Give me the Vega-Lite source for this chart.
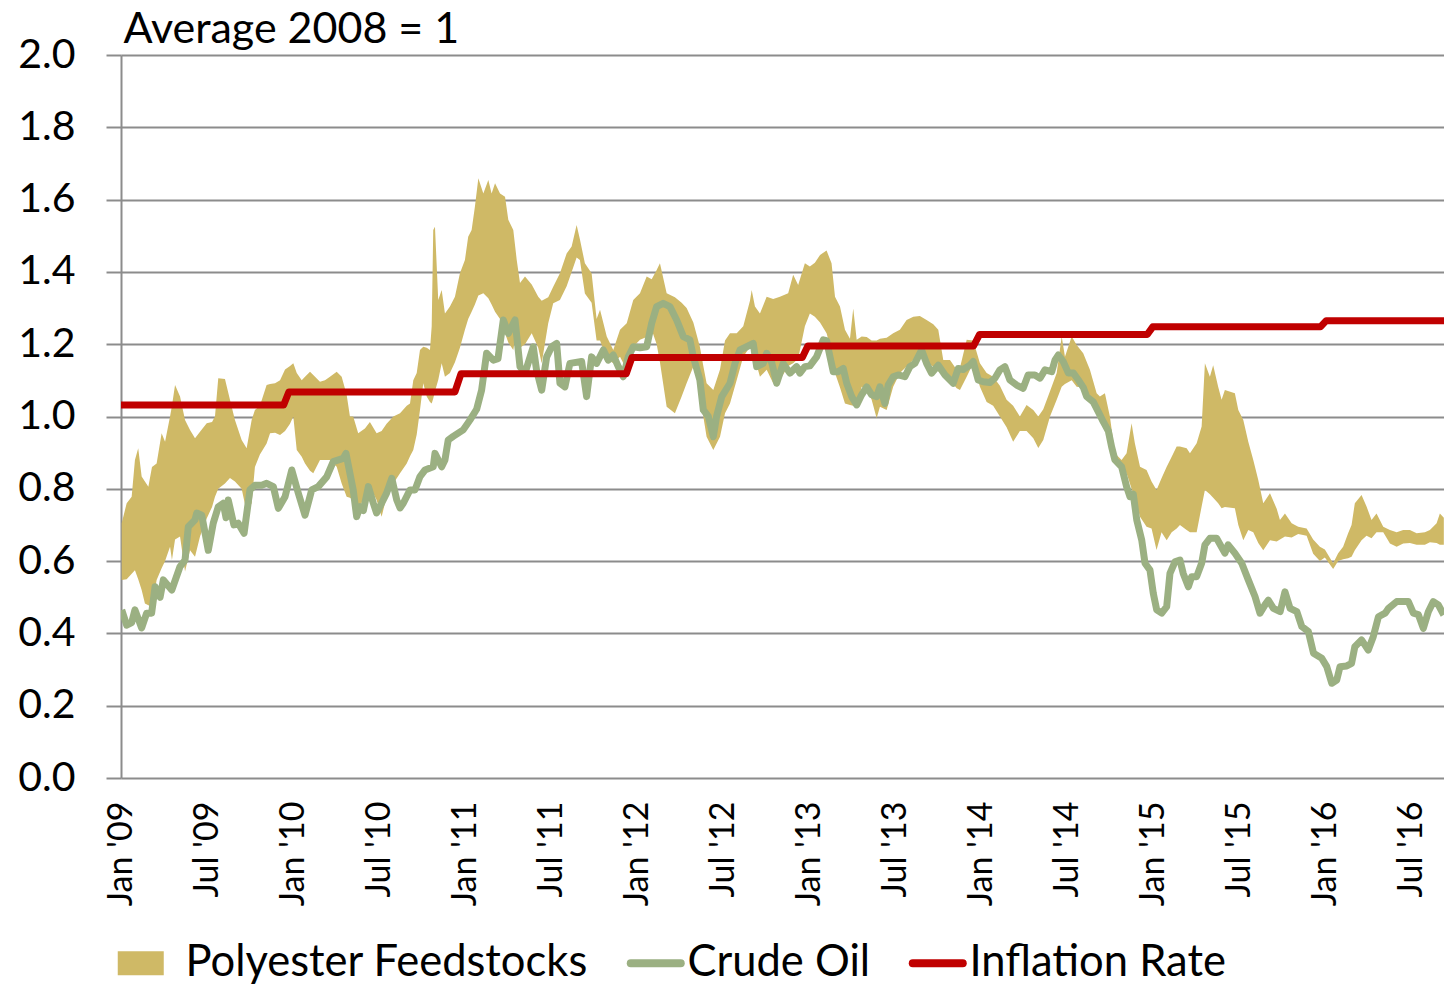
{
  "$schema": "https://vega.github.io/schema/vega-lite/v6.json",
  "width": 1323,
  "height": 723,
  "autosize": {"type": "none"},
  "padding": {"left": 121, "top": 55, "right": 0, "bottom": 206},
  "background": "white",
  "config": {
    "view": {"stroke": null},
    "font": "Lato",
    "axis": {"labelFont": "Lato", "titleFont": "Lato", "labelColor": "#000000", "titleColor": "#000000"},
    "legend": {"labelFont": "Lato"}
  },
  "datasets": {
    "band": [
      {"t":2009.004,"v":0.705,"lo":0.548},{"t":2009.033,"v":0.76,"lo":0.55},{"t":2009.062,"v":0.778,"lo":0.565},{"t":2009.081,"v":0.88,"lo":0.575},{"t":2009.100,"v":0.912,"lo":0.55},{"t":2009.120,"v":0.834,"lo":0.52},{"t":2009.139,"v":0.82,"lo":0.483},{"t":2009.159,"v":0.806,"lo":0.478},{"t":2009.180,"v":0.86,"lo":0.474},{"t":2009.207,"v":0.87,"lo":0.548},{"t":2009.236,"v":0.954,"lo":0.58},{"t":2009.256,"v":0.93,"lo":0.60},{"t":2009.285,"v":1.0,"lo":0.64},{"t":2009.296,"v":1.03,"lo":0.603},{"t":2009.314,"v":1.087,"lo":0.66},{"t":2009.343,"v":1.055,"lo":0.668},{"t":2009.372,"v":0.99,"lo":0.571},{"t":2009.401,"v":0.963,"lo":0.63},{"t":2009.430,"v":0.94,"lo":0.612},{"t":2009.459,"v":0.958,"lo":0.668},{"t":2009.498,"v":0.981,"lo":0.718},{"t":2009.529,"v":0.985,"lo":0.75},{"t":2009.546,"v":1.0,"lo":0.778},{"t":2009.565,"v":1.106,"lo":0.80},{"t":2009.604,"v":1.104,"lo":0.815},{"t":2009.633,"v":1.046,"lo":0.83},{"t":2009.662,"v":0.99,"lo":0.82},{"t":2009.701,"v":0.935,"lo":0.80},{"t":2009.730,"v":0.912,"lo":0.735},{"t":2009.759,"v":0.99,"lo":0.76},{"t":2009.778,"v":1.018,"lo":0.86},{"t":2009.807,"v":1.03,"lo":0.895},{"t":2009.846,"v":1.087,"lo":0.925},{"t":2009.866,"v":1.09,"lo":0.954},{"t":2009.895,"v":1.092,"lo":0.955},{"t":2009.924,"v":1.10,"lo":0.949},{"t":2009.953,"v":1.13,"lo":0.96},{"t":2009.982,"v":1.14,"lo":0.98},{"t":2010.001,"v":1.147,"lo":1.0},{"t":2010.021,"v":1.12,"lo":0.907},{"t":2010.050,"v":1.10,"lo":0.889},{"t":2010.069,"v":1.11,"lo":0.87},{"t":2010.098,"v":1.124,"lo":0.85},{"t":2010.117,"v":1.115,"lo":0.843},{"t":2010.156,"v":1.096,"lo":0.88},{"t":2010.185,"v":1.10,"lo":0.88},{"t":2010.214,"v":1.11,"lo":0.88},{"t":2010.253,"v":1.124,"lo":0.861},{"t":2010.282,"v":1.11,"lo":0.815},{"t":2010.311,"v":1.06,"lo":0.778},{"t":2010.330,"v":1.0,"lo":0.775},{"t":2010.349,"v":1.0,"lo":0.769},{"t":2010.378,"v":0.954,"lo":0.741},{"t":2010.417,"v":0.967,"lo":0.78},{"t":2010.446,"v":0.985,"lo":0.806},{"t":2010.485,"v":0.954,"lo":0.769},{"t":2010.514,"v":0.96,"lo":0.723},{"t":2010.543,"v":0.98,"lo":0.778},{"t":2010.582,"v":1.0,"lo":0.815},{"t":2010.621,"v":1.009,"lo":0.843},{"t":2010.660,"v":1.03,"lo":0.87},{"t":2010.679,"v":1.036,"lo":0.89},{"t":2010.698,"v":1.10,"lo":0.907},{"t":2010.718,"v":1.12,"lo":0.95},{"t":2010.737,"v":1.184,"lo":1.018},{"t":2010.756,"v":1.193,"lo":1.092},{"t":2010.776,"v":1.19,"lo":1.055},{"t":2010.795,"v":1.184,"lo":1.04},{"t":2010.805,"v":1.25,"lo":1.036},{"t":2010.814,"v":1.516,"lo":1.05},{"t":2010.824,"v":1.525,"lo":1.07},{"t":2010.843,"v":1.322,"lo":1.101},{"t":2010.863,"v":1.35,"lo":1.147},{"t":2010.882,"v":1.285,"lo":1.11},{"t":2010.911,"v":1.304,"lo":1.12},{"t":2010.940,"v":1.331,"lo":1.15},{"t":2010.969,"v":1.396,"lo":1.19},{"t":2010.998,"v":1.433,"lo":1.24},{"t":2011.017,"v":1.497,"lo":1.27},{"t":2011.037,"v":1.516,"lo":1.29},{"t":2011.056,"v":1.58,"lo":1.31},{"t":2011.076,"v":1.659,"lo":1.335},{"t":2011.105,"v":1.617,"lo":1.341},{"t":2011.134,"v":1.654,"lo":1.327},{"t":2011.153,"v":1.617,"lo":1.31},{"t":2011.173,"v":1.645,"lo":1.29},{"t":2011.202,"v":1.617,"lo":1.27},{"t":2011.231,"v":1.608,"lo":1.23},{"t":2011.250,"v":1.544,"lo":1.205},{"t":2011.279,"v":1.516,"lo":1.184},{"t":2011.299,"v":1.433,"lo":1.24},{"t":2011.318,"v":1.369,"lo":1.19},{"t":2011.347,"v":1.387,"lo":1.20},{"t":2011.386,"v":1.365,"lo":1.23},{"t":2011.424,"v":1.331,"lo":1.19},{"t":2011.444,"v":1.32,"lo":1.147},{"t":2011.482,"v":1.33,"lo":1.258},{"t":2011.511,"v":1.359,"lo":1.313},{"t":2011.550,"v":1.396,"lo":1.322},{"t":2011.589,"v":1.451,"lo":1.36},{"t":2011.618,"v":1.47,"lo":1.40},{"t":2011.647,"v":1.53,"lo":1.44},{"t":2011.666,"v":1.49,"lo":1.433},{"t":2011.695,"v":1.424,"lo":1.34},{"t":2011.734,"v":1.396,"lo":1.315},{"t":2011.763,"v":1.27,"lo":1.21},{"t":2011.783,"v":1.295,"lo":1.21},{"t":2011.822,"v":1.221,"lo":1.16},{"t":2011.860,"v":1.184,"lo":1.147},{"t":2011.899,"v":1.24,"lo":1.165},{"t":2011.938,"v":1.258,"lo":1.129},{"t":2011.976,"v":1.322,"lo":1.193},{"t":2012.015,"v":1.341,"lo":1.212},{"t":2012.054,"v":1.387,"lo":1.22},{"t":2012.083,"v":1.38,"lo":1.24},{"t":2012.112,"v":1.405,"lo":1.2},{"t":2012.131,"v":1.424,"lo":1.15},{"t":2012.170,"v":1.341,"lo":1.027},{"t":2012.218,"v":1.33,"lo":1.009},{"t":2012.257,"v":1.315,"lo":1.055},{"t":2012.286,"v":1.30,"lo":1.092},{"t":2012.325,"v":1.26,"lo":1.138},{"t":2012.363,"v":1.193,"lo":1.092},{"t":2012.383,"v":1.14,"lo":1.0},{"t":2012.402,"v":1.092,"lo":0.944},{"t":2012.441,"v":1.073,"lo":0.907},{"t":2012.480,"v":1.13,"lo":0.944},{"t":2012.509,"v":1.21,"lo":1.009},{"t":2012.538,"v":1.23,"lo":1.036},{"t":2012.577,"v":1.23,"lo":1.101},{"t":2012.615,"v":1.25,"lo":1.165},{"t":2012.654,"v":1.32,"lo":1.193},{"t":2012.664,"v":1.35,"lo":1.19},{"t":2012.683,"v":1.304,"lo":1.16},{"t":2012.712,"v":1.285,"lo":1.11},{"t":2012.751,"v":1.331,"lo":1.129},{"t":2012.789,"v":1.325,"lo":1.092},{"t":2012.828,"v":1.331,"lo":1.10},{"t":2012.876,"v":1.341,"lo":1.14},{"t":2012.905,"v":1.392,"lo":1.147},{"t":2012.934,"v":1.364,"lo":1.16},{"t":2012.973,"v":1.424,"lo":1.25},{"t":2013.002,"v":1.415,"lo":1.285},{"t":2013.031,"v":1.425,"lo":1.276},{"t":2013.061,"v":1.447,"lo":1.26},{"t":2013.099,"v":1.459,"lo":1.23},{"t":2013.128,"v":1.424,"lo":1.18},{"t":2013.148,"v":1.331,"lo":1.12},{"t":2013.177,"v":1.304,"lo":1.08},{"t":2013.206,"v":1.24,"lo":1.036},{"t":2013.235,"v":1.215,"lo":1.032},{"t":2013.254,"v":1.299,"lo":1.03},{"t":2013.274,"v":1.212,"lo":1.027},{"t":2013.303,"v":1.221,"lo":1.082},{"t":2013.332,"v":1.22,"lo":1.075},{"t":2013.361,"v":1.21,"lo":1.046},{"t":2013.390,"v":1.21,"lo":0.995},{"t":2013.409,"v":1.215,"lo":1.027},{"t":2013.448,"v":1.218,"lo":1.018},{"t":2013.486,"v":1.23,"lo":1.082},{"t":2013.525,"v":1.24,"lo":1.12},{"t":2013.564,"v":1.267,"lo":1.138},{"t":2013.603,"v":1.276,"lo":1.156},{"t":2013.641,"v":1.278,"lo":1.184},{"t":2013.680,"v":1.267,"lo":1.147},{"t":2013.719,"v":1.255,"lo":1.138},{"t":2013.748,"v":1.24,"lo":1.125},{"t":2013.777,"v":1.156,"lo":1.115},{"t":2013.816,"v":1.156,"lo":1.10},{"t":2013.855,"v":1.129,"lo":1.078},{"t":2013.874,"v":1.135,"lo":1.073},{"t":2013.913,"v":1.212,"lo":1.11},{"t":2013.951,"v":1.21,"lo":1.147},{"t":2013.990,"v":1.147,"lo":1.082},{"t":2014.029,"v":1.12,"lo":1.04},{"t":2014.067,"v":1.11,"lo":1.03},{"t":2014.106,"v":1.085,"lo":1.0},{"t":2014.145,"v":1.046,"lo":0.97},{"t":2014.183,"v":1.03,"lo":0.93},{"t":2014.222,"v":1.0,"lo":0.96},{"t":2014.261,"v":1.032,"lo":0.96},{"t":2014.300,"v":1.018,"lo":0.94},{"t":2014.329,"v":1.0,"lo":0.913},{"t":2014.358,"v":1.02,"lo":0.935},{"t":2014.397,"v":1.07,"lo":1.0},{"t":2014.436,"v":1.12,"lo":1.046},{"t":2014.465,"v":1.221,"lo":1.082},{"t":2014.484,"v":1.165,"lo":1.09},{"t":2014.523,"v":1.221,"lo":1.10},{"t":2014.552,"v":1.198,"lo":1.082},{"t":2014.590,"v":1.175,"lo":1.08},{"t":2014.629,"v":1.129,"lo":1.05},{"t":2014.668,"v":1.064,"lo":1.025},{"t":2014.687,"v":1.055,"lo":1.01},{"t":2014.716,"v":1.064,"lo":0.99},{"t":2014.745,"v":1.0,"lo":0.954},{"t":2014.774,"v":0.898,"lo":0.885},{"t":2014.813,"v":0.88,"lo":0.861},{"t":2014.842,"v":0.898,"lo":0.843},{"t":2014.871,"v":0.981,"lo":0.80},{"t":2014.890,"v":0.926,"lo":0.775},{"t":2014.920,"v":0.861,"lo":0.723},{"t":2014.958,"v":0.852,"lo":0.695},{"t":2014.987,"v":0.82,"lo":0.69},{"t":2015.016,"v":0.797,"lo":0.631},{"t":2015.045,"v":0.829,"lo":0.68},{"t":2015.075,"v":0.861,"lo":0.658},{"t":2015.104,"v":0.889,"lo":0.68},{"t":2015.133,"v":0.917,"lo":0.69},{"t":2015.152,"v":0.917,"lo":0.70},{"t":2015.191,"v":0.912,"lo":0.686},{"t":2015.210,"v":0.898,"lo":0.68},{"t":2015.249,"v":0.926,"lo":0.68},{"t":2015.278,"v":0.972,"lo":0.751},{"t":2015.297,"v":1.147,"lo":0.797},{"t":2015.326,"v":1.11,"lo":0.785},{"t":2015.345,"v":1.142,"lo":0.775},{"t":2015.374,"v":1.082,"lo":0.76},{"t":2015.394,"v":1.046,"lo":0.746},{"t":2015.413,"v":1.073,"lo":0.75},{"t":2015.471,"v":1.064,"lo":0.746},{"t":2015.491,"v":1.018,"lo":0.70},{"t":2015.520,"v":0.99,"lo":0.658},{"t":2015.549,"v":0.93,"lo":0.686},{"t":2015.578,"v":0.88,"lo":0.68},{"t":2015.607,"v":0.824,"lo":0.65},{"t":2015.636,"v":0.76,"lo":0.63},{"t":2015.675,"v":0.788,"lo":0.658},{"t":2015.714,"v":0.745,"lo":0.654},{"t":2015.733,"v":0.714,"lo":0.66},{"t":2015.762,"v":0.732,"lo":0.668},{"t":2015.801,"v":0.705,"lo":0.665},{"t":2015.839,"v":0.695,"lo":0.675},{"t":2015.888,"v":0.69,"lo":0.67},{"t":2015.926,"v":0.66,"lo":0.62},{"t":2015.965,"v":0.64,"lo":0.60},{"t":2015.994,"v":0.632,"lo":0.61},{"t":2016.042,"v":0.594,"lo":0.578},{"t":2016.071,"v":0.622,"lo":0.60},{"t":2016.100,"v":0.64,"lo":0.605},{"t":2016.129,"v":0.677,"lo":0.608},{"t":2016.149,"v":0.70,"lo":0.612},{"t":2016.168,"v":0.76,"lo":0.63},{"t":2016.207,"v":0.783,"lo":0.658},{"t":2016.236,"v":0.751,"lo":0.67},{"t":2016.265,"v":0.714,"lo":0.663},{"t":2016.294,"v":0.732,"lo":0.68},{"t":2016.333,"v":0.695,"lo":0.68},{"t":2016.372,"v":0.686,"lo":0.649},{"t":2016.411,"v":0.68,"lo":0.64},{"t":2016.449,"v":0.686,"lo":0.649},{"t":2016.488,"v":0.686,"lo":0.65},{"t":2016.527,"v":0.677,"lo":0.645},{"t":2016.575,"v":0.68,"lo":0.645},{"t":2016.604,"v":0.686,"lo":0.652},{"t":2016.643,"v":0.705,"lo":0.65},{"t":2016.662,"v":0.732,"lo":0.645},{"t":2016.685,"v":0.72,"lo":0.645}
    ],
    "crude": [
      {"t":2009.004,"v":0.465},{"t":2009.033,"v":0.423},{"t":2009.062,"v":0.43},{"t":2009.081,"v":0.465},{"t":2009.120,"v":0.415},{"t":2009.149,"v":0.456},{"t":2009.178,"v":0.456},{"t":2009.198,"v":0.529},{"t":2009.227,"v":0.50},{"t":2009.246,"v":0.548},{"t":2009.295,"v":0.52},{"t":2009.343,"v":0.585},{"t":2009.372,"v":0.603},{"t":2009.391,"v":0.695},{"t":2009.430,"v":0.714},{"t":2009.440,"v":0.733},{"t":2009.469,"v":0.727},{"t":2009.507,"v":0.63},{"t":2009.536,"v":0.705},{"t":2009.565,"v":0.75},{"t":2009.594,"v":0.76},{"t":2009.610,"v":0.72},{"t":2009.623,"v":0.769},{"t":2009.656,"v":0.70},{"t":2009.681,"v":0.705},{"t":2009.715,"v":0.677},{"t":2009.749,"v":0.797},{"t":2009.778,"v":0.81},{"t":2009.817,"v":0.81},{"t":2009.846,"v":0.815},{"t":2009.885,"v":0.806},{"t":2009.914,"v":0.746},{"t":2009.953,"v":0.778},{"t":2009.992,"v":0.852},{"t":2010.030,"v":0.788},{"t":2010.069,"v":0.727},{"t":2010.108,"v":0.797},{"t":2010.146,"v":0.806},{"t":2010.195,"v":0.833},{"t":2010.233,"v":0.875},{"t":2010.291,"v":0.884},{"t":2010.307,"v":0.898},{"t":2010.349,"v":0.797},{"t":2010.369,"v":0.723},{"t":2010.388,"v":0.751},{"t":2010.408,"v":0.74},{"t":2010.437,"v":0.806},{"t":2010.466,"v":0.76},{"t":2010.485,"v":0.733},{"t":2010.514,"v":0.76},{"t":2010.543,"v":0.788},{"t":2010.573,"v":0.829},{"t":2010.602,"v":0.769},{"t":2010.621,"v":0.747},{"t":2010.640,"v":0.76},{"t":2010.679,"v":0.797},{"t":2010.708,"v":0.797},{"t":2010.737,"v":0.834},{"t":2010.766,"v":0.852},{"t":2010.814,"v":0.861},{"t":2010.824,"v":0.898},{"t":2010.863,"v":0.861},{"t":2010.882,"v":0.88},{"t":2010.901,"v":0.935},{"t":2010.930,"v":0.945},{"t":2010.959,"v":0.954},{"t":2010.988,"v":0.963},{"t":2011.027,"v":0.99},{"t":2011.066,"v":1.02},{"t":2011.095,"v":1.073},{"t":2011.124,"v":1.175},{"t":2011.163,"v":1.156},{"t":2011.190,"v":1.16},{"t":2011.221,"v":1.267},{"t":2011.250,"v":1.23},{"t":2011.289,"v":1.267},{"t":2011.318,"v":1.138},{"t":2011.347,"v":1.12},{"t":2011.395,"v":1.193},{"t":2011.414,"v":1.129},{"t":2011.444,"v":1.073},{"t":2011.473,"v":1.165},{"t":2011.502,"v":1.193},{"t":2011.531,"v":1.202},{"t":2011.550,"v":1.092},{"t":2011.579,"v":1.082},{"t":2011.608,"v":1.147},{"t":2011.676,"v":1.152},{"t":2011.705,"v":1.055},{"t":2011.734,"v":1.165},{"t":2011.763,"v":1.147},{"t":2011.802,"v":1.184},{"t":2011.831,"v":1.156},{"t":2011.860,"v":1.17},{"t":2011.889,"v":1.138},{"t":2011.918,"v":1.11},{"t":2011.947,"v":1.165},{"t":2011.976,"v":1.193},{"t":2012.015,"v":1.19},{"t":2012.054,"v":1.193},{"t":2012.083,"v":1.258},{"t":2012.112,"v":1.304},{"t":2012.150,"v":1.313},{"t":2012.189,"v":1.304},{"t":2012.228,"v":1.267},{"t":2012.267,"v":1.221},{"t":2012.305,"v":1.212},{"t":2012.325,"v":1.165},{"t":2012.363,"v":1.101},{"t":2012.383,"v":1.018},{"t":2012.412,"v":1.0},{"t":2012.441,"v":0.944},{"t":2012.460,"v":1.0},{"t":2012.490,"v":1.055},{"t":2012.538,"v":1.092},{"t":2012.567,"v":1.147},{"t":2012.596,"v":1.184},{"t":2012.635,"v":1.193},{"t":2012.673,"v":1.202},{"t":2012.693,"v":1.138},{"t":2012.731,"v":1.147},{"t":2012.751,"v":1.175},{"t":2012.780,"v":1.15},{"t":2012.809,"v":1.092},{"t":2012.847,"v":1.147},{"t":2012.886,"v":1.12},{"t":2012.925,"v":1.138},{"t":2012.944,"v":1.12},{"t":2012.973,"v":1.138},{"t":2013.002,"v":1.14},{"t":2013.041,"v":1.165},{"t":2013.080,"v":1.212},{"t":2013.099,"v":1.21},{"t":2013.119,"v":1.165},{"t":2013.138,"v":1.124},{"t":2013.167,"v":1.124},{"t":2013.196,"v":1.133},{"t":2013.216,"v":1.092},{"t":2013.245,"v":1.055},{"t":2013.274,"v":1.032},{"t":2013.303,"v":1.06},{"t":2013.332,"v":1.082},{"t":2013.361,"v":1.06},{"t":2013.390,"v":1.055},{"t":2013.409,"v":1.082},{"t":2013.438,"v":1.036},{"t":2013.457,"v":1.087},{"t":2013.486,"v":1.11},{"t":2013.515,"v":1.115},{"t":2013.554,"v":1.11},{"t":2013.583,"v":1.138},{"t":2013.612,"v":1.147},{"t":2013.651,"v":1.184},{"t":2013.680,"v":1.147},{"t":2013.709,"v":1.12},{"t":2013.748,"v":1.142},{"t":2013.787,"v":1.115},{"t":2013.835,"v":1.092},{"t":2013.864,"v":1.133},{"t":2013.893,"v":1.13},{"t":2013.932,"v":1.142},{"t":2013.951,"v":1.152},{"t":2013.980,"v":1.101},{"t":2014.009,"v":1.096},{"t":2014.048,"v":1.094},{"t":2014.077,"v":1.106},{"t":2014.106,"v":1.129},{"t":2014.135,"v":1.138},{"t":2014.164,"v":1.101},{"t":2014.203,"v":1.087},{"t":2014.241,"v":1.078},{"t":2014.270,"v":1.115},{"t":2014.309,"v":1.115},{"t":2014.339,"v":1.106},{"t":2014.368,"v":1.129},{"t":2014.407,"v":1.124},{"t":2014.426,"v":1.156},{"t":2014.445,"v":1.170},{"t":2014.474,"v":1.152},{"t":2014.504,"v":1.12},{"t":2014.533,"v":1.12},{"t":2014.562,"v":1.101},{"t":2014.591,"v":1.08},{"t":2014.610,"v":1.055},{"t":2014.649,"v":1.04},{"t":2014.678,"v":1.013},{"t":2014.707,"v":0.985},{"t":2014.736,"v":0.96},{"t":2014.755,"v":0.916},{"t":2014.774,"v":0.88},{"t":2014.813,"v":0.861},{"t":2014.842,"v":0.806},{"t":2014.862,"v":0.778},{"t":2014.881,"v":0.785},{"t":2014.901,"v":0.714},{"t":2014.930,"v":0.658},{"t":2014.949,"v":0.594},{"t":2014.978,"v":0.575},{"t":2014.997,"v":0.511},{"t":2015.017,"v":0.465},{"t":2015.046,"v":0.456},{"t":2015.075,"v":0.474},{"t":2015.094,"v":0.566},{"t":2015.123,"v":0.598},{"t":2015.152,"v":0.603},{"t":2015.171,"v":0.566},{"t":2015.201,"v":0.529},{"t":2015.220,"v":0.557},{"t":2015.249,"v":0.557},{"t":2015.278,"v":0.594},{"t":2015.297,"v":0.645},{"t":2015.326,"v":0.663},{"t":2015.365,"v":0.663},{"t":2015.413,"v":0.622},{"t":2015.432,"v":0.645},{"t":2015.471,"v":0.622},{"t":2015.511,"v":0.594},{"t":2015.549,"v":0.548},{"t":2015.588,"v":0.502},{"t":2015.617,"v":0.456},{"t":2015.646,"v":0.479},{"t":2015.665,"v":0.492},{"t":2015.695,"v":0.469},{"t":2015.734,"v":0.46},{"t":2015.762,"v":0.515},{"t":2015.792,"v":0.469},{"t":2015.831,"v":0.46},{"t":2015.860,"v":0.419},{"t":2015.898,"v":0.405},{"t":2015.928,"v":0.345},{"t":2015.976,"v":0.331},{"t":2016.005,"v":0.308},{"t":2016.034,"v":0.262},{"t":2016.063,"v":0.271},{"t":2016.082,"v":0.308},{"t":2016.121,"v":0.31},{"t":2016.149,"v":0.317},{"t":2016.168,"v":0.363},{"t":2016.207,"v":0.382},{"t":2016.246,"v":0.354},{"t":2016.275,"v":0.391},{"t":2016.305,"v":0.446},{"t":2016.344,"v":0.456},{"t":2016.363,"v":0.469},{"t":2016.411,"v":0.488},{"t":2016.450,"v":0.488},{"t":2016.479,"v":0.488},{"t":2016.508,"v":0.456},{"t":2016.537,"v":0.452},{"t":2016.566,"v":0.414},{"t":2016.595,"v":0.46},{"t":2016.624,"v":0.488},{"t":2016.653,"v":0.479},{"t":2016.685,"v":0.451}
    ],
    "infl": [
      {"t":2009.0,"v":1.032},{"t":2009.945,"v":1.032},{"t":2009.975,"v":1.068},{"t":2010.94,"v":1.068},{"t":2010.975,"v":1.118},{"t":2011.935,"v":1.118},{"t":2011.968,"v":1.163},{"t":2012.958,"v":1.163},{"t":2012.99,"v":1.195},{"t":2013.953,"v":1.195},{"t":2013.988,"v":1.227},{"t":2014.962,"v":1.227},{"t":2014.994,"v":1.248},{"t":2015.968,"v":1.248},{"t":2016.002,"v":1.265},{"t":2016.686,"v":1.265}
    ]
  },
  "encoding": {
    "x": {
      "field": "t",
      "type": "quantitative",
      "scale": {"domain": [2009, 2016.686], "nice": false, "zero": false},
      "axis": {
        "title": null,
        "values": [2009, 2009.5, 2010, 2010.5, 2011, 2011.5, 2012, 2012.5, 2013, 2013.5, 2014, 2014.5, 2015, 2015.5, 2016, 2016.5],
        "labelExpr": "(datum.value % 1 < 0.25 ? 'Jan' : 'Jul') + \" '\" + format(floor(datum.value) % 100, '02d')",
        "labelAngle": 270,
        "labelAlign": "right",
        "labelBaseline": "middle",
        "labelFontSize": 34,
        "labelPadding": 23,
        "ticks": false,
        "tickSize": 0,
        "domain": false,
        "grid": false,
        "labelOverlap": false,
        "labelBound": false,
        "labelFlush": false
      }
    },
    "y": {
      "field": "v",
      "type": "quantitative",
      "scale": {"domain": [0, 2], "nice": false, "zero": true},
      "axis": {
        "title": "Average 2008 = 1",
        "titleAngle": 0,
        "titleAlign": "left",
        "titleBaseline": "alphabetic",
        "titleX": 2,
        "titleY": -13,
        "titleFontSize": 43,
        "titleFontWeight": "normal",
        "values": [0, 0.2, 0.4, 0.6, 0.8, 1.0, 1.2, 1.4, 1.6, 1.8, 2.0],
        "format": ".1f",
        "labelFontSize": 41,
        "labelPadding": 31,
        "tickSize": 15,
        "tickColor": "#8C8C8C",
        "tickWidth": 2,
        "domainColor": "#8C8C8C",
        "domainWidth": 2,
        "grid": true,
        "gridColor": "#8C8C8C",
        "gridWidth": 2,
        "labelOverlap": false,
        "labelFlush": false,
        "labelBound": false
      }
    }
  },
  "layer": [
    {
      "data": {"name": "band"},
      "mark": {"type": "area", "opacity": 1, "clip": true},
      "encoding": {
        "y2": {"field": "lo"},
        "color": {
          "datum": "Polyester Feedstocks",
          "type": "nominal",
          "scale": {"domain": ["Polyester Feedstocks", "Crude Oil", "Inflation Rate"], "range": ["#CFB966", "#9BB082", "#C00000"]},
          "legend": {
            "title": null,
            "orient": "none",
            "direction": "horizontal",
            "legendX": 11,
            "legendY": 886,
            "padding": 0,
            "labelFontSize": 43.5,
            "labelColor": "#000000",
            "labelLimit": 800,
            "labelOffset": 10,
            "columnPadding": 25,
            "symbolSize": 2500,
            "symbolOpacity": 1,
            "encode": {
              "symbols": {
                "update": {
                  "shape": {"signal": "datum.value === 'Polyester Feedstocks' ? 'M-1.44,-0.48H0.4V0.48H-1.44Z' : 'M-1,0H1'"},
                  "fill": {"signal": "datum.value === 'Polyester Feedstocks' ? '#CFB966' : 'transparent'"},
                  "stroke": {"signal": "datum.value === 'Crude Oil' ? '#9BB082' : (datum.value === 'Inflation Rate' ? '#C00000' : 'transparent')"},
                  "strokeWidth": {"signal": "datum.value === 'Polyester Feedstocks' ? 0 : 8"},
                  "strokeCap": {"value": "round"},
                  "size": {"value": 2500},
                  "opacity": {"value": 1}
                }
              }
            }
          }
        }
      }
    },
    {
      "data": {"name": "crude"},
      "mark": {"type": "line", "strokeWidth": 7, "strokeJoin": "round", "clip": true},
      "encoding": {
        "color": {"datum": "Crude Oil", "type": "nominal"}
      }
    },
    {
      "data": {"name": "infl"},
      "mark": {"type": "line", "strokeWidth": 7, "strokeJoin": "round", "clip": true},
      "encoding": {
        "color": {"datum": "Inflation Rate", "type": "nominal"}
      }
    }
  ]
}
